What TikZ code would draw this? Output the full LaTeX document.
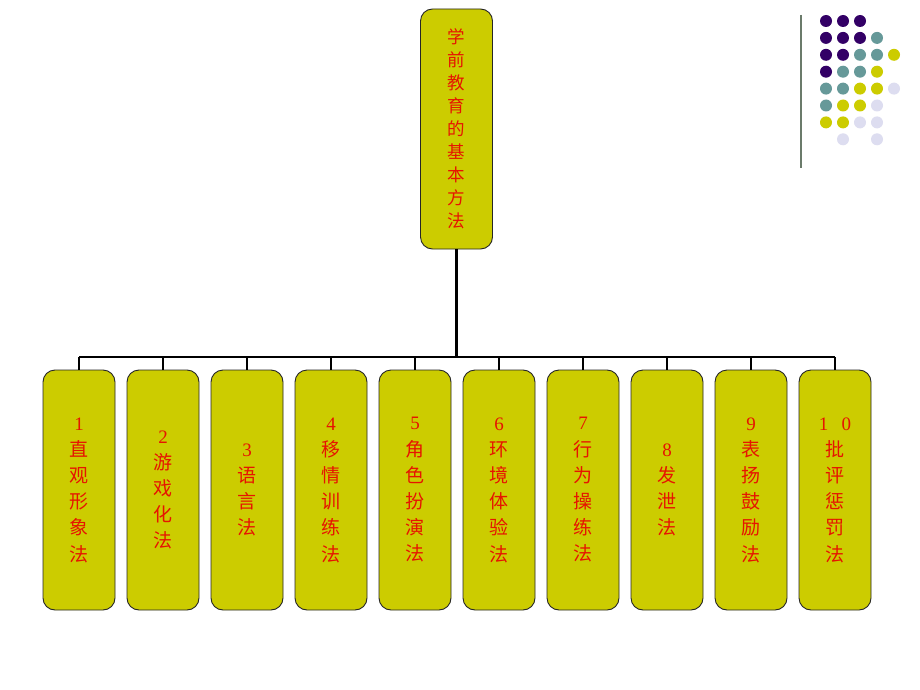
\documentclass[tikz,border=0pt]{standalone}
\usepackage{fontspec}
\setmainfont{Liberation Serif}
\newfontfamily\cjk{Noto Sans CJK SC}
\definecolor{boxfill}{RGB}{204,204,0}
\definecolor{txtred}{RGB}{230,20,0}
\definecolor{dotP}{RGB}{51,0,102}
\definecolor{dotT}{RGB}{102,153,153}
\definecolor{dotY}{RGB}{204,204,0}
\definecolor{dotL}{RGB}{221,221,240}
\definecolor{barline}{RGB}{107,123,107}
\tikzset{
  mbox/.style={draw=black!85, line width=0.9pt, fill=boxfill, rounded corners=12pt,
    minimum width=72pt, minimum height=240pt, inner sep=0pt, align=center,
    text=txtred, font=\cjk\fontsize{19}{26.2}\selectfont},
  topbox/.style={mbox, font=\cjk\fontsize{17.5}{23}\selectfont},
  conn/.style={line width=2.6pt, black},
  dot/.style={circle, minimum size=12pt, inner sep=0pt}
}
\begin{document}
\begin{tikzpicture}[x=1pt,y=-1pt]
\useasboundingbox (0,0) rectangle (920,690);
\fill[white] (0,0) rectangle (920,690);
% decoration
\draw[barline, line width=1.6pt] (801,15) -- (801,168);
\foreach \r/\c/\k in {0/0/P,0/1/P,0/2/P,
  1/0/P,1/1/P,1/2/P,1/3/T,
  2/0/P,2/1/P,2/2/T,2/3/T,2/4/Y,
  3/0/P,3/1/T,3/2/T,3/3/Y,
  4/0/T,4/1/T,4/2/Y,4/3/Y,4/4/L,
  5/0/T,5/1/Y,5/2/Y,5/3/L,
  6/0/Y,6/1/Y,6/2/L,6/3/L,
  7/1/L,7/3/L}{
  \node[dot, fill=dot\k] (d\r\c) at (826+17*\c, 21+16.9*\r) {};
}
% top box
\node[topbox] (top) at (456.5,129) {学\\前\\教\\育\\的\\基\\本\\方\\法};
% bottom boxes
\node[mbox] (b1) at (79,490) {{\rmfamily 1}\\直\\观\\形\\象\\法};
\node[mbox] (b2) at (163,490) {{\rmfamily 2}\\游\\戏\\化\\法};
\node[mbox] (b3) at (247,490) {{\rmfamily 3}\\语\\言\\法};
\node[mbox] (b4) at (331,490) {{\rmfamily 4}\\移\\情\\训\\练\\法};
\node[mbox] (b5) at (415,490) {{\rmfamily 5}\\角\\色\\扮\\演\\法};
\node[mbox] (b6) at (499,490) {{\rmfamily 6}\\环\\境\\体\\验\\法};
\node[mbox] (b7) at (583,490) {{\rmfamily 7}\\行\\为\\操\\练\\法};
\node[mbox] (b8) at (667,490) {{\rmfamily 8}\\发\\泄\\法};
\node[mbox] (b9) at (751,490) {{\rmfamily 9}\\表\\扬\\鼓\\励\\法};
\node[mbox] (b10) at (835,490) {{\rmfamily 1\hspace{0.7em}0}\\批\\评\\惩\\罚\\法};
% connectors
\coordinate (j) at (456.5,357);
\draw[conn] (top.south) -- (j);
\draw[conn] (b1.north |- j) -- (b10.north |- j);
\foreach \k in {1,...,10}{
  \draw[conn] (b\k.north |- j) -- (b\k.north);
}
\end{tikzpicture}
\end{document}
